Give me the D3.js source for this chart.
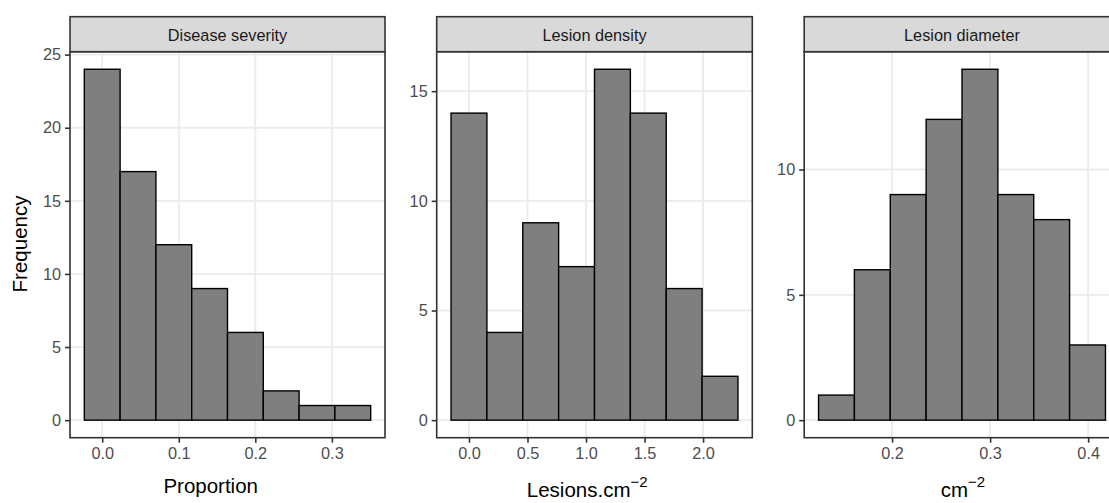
<!DOCTYPE html>
<html>
<head>
<meta charset="utf-8">
<script src="https://cdn.jsdelivr.net/npm/d3@7/dist/d3.min.js"></script>
<style>
  html, body { margin: 0; padding: 0; background: #fff; }
  svg { display: block; font-family: "Liberation Sans", Arial, sans-serif; }
</style>
</head>
<body>
<svg id="chart" width="1109" height="503"></svg>
<script>
// Histogram counts per facet, with the centre of the first bin and the bin width
const severityCounts = [24, 17, 12, 9, 6, 2, 1, 1];
const severityFirstCentre = 0.0;
const severityBinWidth = 0.04676;

const densityCounts = [14, 4, 9, 7, 16, 14, 6, 2];
const densityFirstCentre = 0.0;
const densityBinWidth = 0.3064;

const diameterCounts = [1, 6, 9, 12, 14, 9, 8, 3];
const diameterFirstCentre = 0.1433;
const diameterBinWidth = 0.03658;

// Facet titles and tick values
const stripTitles = ["Disease severity", "Lesion density", "Lesion diameter"];
const severityXTicks = [0.0, 0.1, 0.2, 0.3];
const densityXTicks = [0.0, 0.5, 1.0, 1.5, 2.0];
const diameterXTicks = [0.2, 0.3, 0.4];
const severityYTicks = [0, 5, 10, 15, 20, 25];
const densityYTicks = [0, 5, 10, 15];
const diameterYTicks = [0, 5, 10];

const svg = d3.select("#chart");

const panelTop = 51.7, panelBottom = 437.7, stripTop = 16.7;
const panels = [
  { title: stripTitles[0], counts: severityCounts, c0: severityFirstCentre, bw: severityBinWidth,
    xt: severityXTicks, yt: severityYTicks, left: 70, right: 385 },
  { title: stripTitles[1], counts: densityCounts, c0: densityFirstCentre, bw: densityBinWidth,
    xt: densityXTicks, yt: densityYTicks, left: 436.7, right: 752.3 },
  { title: stripTitles[2], counts: diameterCounts, c0: diameterFirstCentre, bw: diameterBinWidth,
    xt: diameterXTicks, yt: diameterYTicks, left: 804.2, right: 1119.8 }
];

const fmt1 = d3.format(".1f");

panels.forEach((p) => {
  const bins = p.counts.map((n, i) => {
    const c = p.c0 + i * p.bw;
    return { x0: c - p.bw / 2, x1: c + p.bw / 2, n };
  });
  const xmin = bins[0].x0, xmax = bins[bins.length - 1].x1;
  const xpad = (xmax - xmin) * 0.05;
  const x = d3.scaleLinear().domain([xmin - xpad, xmax + xpad]).range([p.left, p.right]);
  const ymax = d3.max(p.counts);
  const y = d3.scaleLinear().domain([-ymax * 0.05, ymax * 1.05]).range([panelBottom, panelTop]);

  const g = svg.append("g");
  const clipId = "clip" + Math.round(p.left);
  g.append("clipPath").attr("id", clipId)
    .append("rect").attr("x", p.left).attr("y", panelTop)
    .attr("width", p.right - p.left).attr("height", panelBottom - panelTop);

  const inner = g.append("g").attr("clip-path", `url(#${clipId})`);
  inner.append("rect").attr("x", p.left).attr("y", panelTop)
    .attr("width", p.right - p.left).attr("height", panelBottom - panelTop).attr("fill", "#fff");

  // major grid
  inner.selectAll(".gx").data(p.xt).enter().append("line")
    .attr("x1", d => x(d)).attr("x2", d => x(d)).attr("y1", panelTop).attr("y2", panelBottom)
    .attr("stroke", "#EBEBEB").attr("stroke-width", 1.8);
  inner.selectAll(".gy").data(p.yt).enter().append("line")
    .attr("y1", d => y(d)).attr("y2", d => y(d)).attr("x1", p.left).attr("x2", p.right)
    .attr("stroke", "#EBEBEB").attr("stroke-width", 1.8);

  // bars
  inner.selectAll(".bar").data(bins).enter().append("rect")
    .attr("x", d => x(d.x0)).attr("width", d => x(d.x1) - x(d.x0))
    .attr("y", d => y(d.n)).attr("height", d => y(0) - y(d.n))
    .attr("fill", "#7F7F7F").attr("stroke", "#000").attr("stroke-width", 1.4);

  // panel border
  g.append("rect").attr("x", p.left).attr("y", panelTop)
    .attr("width", p.right - p.left).attr("height", panelBottom - panelTop)
    .attr("fill", "none").attr("stroke", "#333333").attr("stroke-width", 1.6);

  // strip
  g.append("rect").attr("x", p.left).attr("y", stripTop)
    .attr("width", p.right - p.left).attr("height", panelTop - stripTop)
    .attr("fill", "#D9D9D9").attr("stroke", "#333333").attr("stroke-width", 1.6);
  g.append("text").attr("x", (p.left + p.right) / 2).attr("y", 40.5)
    .attr("text-anchor", "middle").attr("font-size", 16.3).attr("fill", "#1A1A1A")
    .text(p.title);

  // x axis
  const xa = d3.axisBottom(x).tickValues(p.xt).tickFormat(fmt1).tickSize(5).tickPadding(5);
  const gxA = g.append("g").attr("transform", `translate(0,${panelBottom})`).call(xa);
  // y axis
  const ya = d3.axisLeft(y).tickValues(p.yt).tickFormat(d3.format("d")).tickSize(5).tickPadding(4);
  const gyA = g.append("g").attr("transform", `translate(${p.left},0)`).call(ya);
  [gxA, gyA].forEach(a => {
    a.select(".domain").remove();
    a.selectAll(".tick line").attr("stroke", "#333333").attr("stroke-width", 1.6);
    a.selectAll(".tick text").attr("fill", "#4D4D4D").attr("font-size", 16.3)
      .attr("font-family", "'Liberation Sans', Arial, sans-serif");
  });
});

// axis titles
svg.append("text").attr("transform", "translate(27,244) rotate(-90)")
  .attr("text-anchor", "middle").attr("font-size", 20.5).attr("fill", "#000").text("Frequency");

svg.append("text").attr("x", 210.7).attr("y", 493.3)
  .attr("text-anchor", "middle").attr("font-size", 20.5).attr("fill", "#000").text("Proportion");

const t2 = svg.append("text").attr("x", 587.2).attr("y", 497)
  .attr("text-anchor", "middle").attr("font-size", 20.5).attr("fill", "#000");
t2.append("tspan").text("Lesions.cm");
t2.append("tspan").attr("dy", -10).attr("font-size", 15).text("\u22122");

const t3 = svg.append("text").attr("x", 962.9).attr("y", 497)
  .attr("text-anchor", "middle").attr("font-size", 20.5).attr("fill", "#000");
t3.append("tspan").text("cm");
t3.append("tspan").attr("dy", -10).attr("font-size", 15).text("\u22122");
</script>
</body>
</html>
